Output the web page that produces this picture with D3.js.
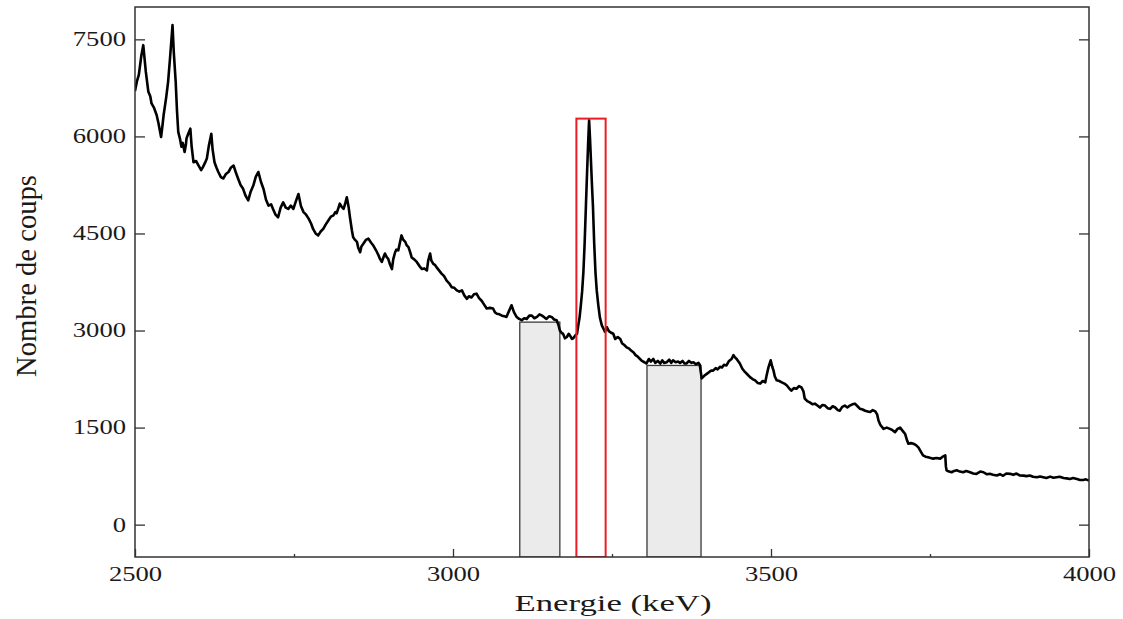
<!DOCTYPE html>
<html>
<head>
<meta charset="utf-8">
<script src="https://cdn.jsdelivr.net/npm/d3@7"></script>
<style>
  body { margin: 0; background: #fff; }
  svg { display: block; }
  text { font-family: "Liberation Serif", "Times New Roman", serif; fill: #1a1a1a; }
</style>
</head>
<body>
<svg id="chart"></svg>
<script>
// gamma spectrum, [energy keV, counts]
const spectrum = [
  [2500,6700],[2503,6850],[2506,6950],[2510,7250],[2513,7410],[2517,7000],[2521,6690],[2524,6620],
  [2526,6510],[2530,6440],[2534,6330],[2537,6200],[2541,5990],[2543,6150],[2545,6330],[2549,6600],
  [2552,6840],[2555,7200],[2559,7720],[2561,7300],[2564,6840],[2566,6400],[2568,6070],[2571,5950],
  [2573,5840],[2575,5900],[2578,5760],[2580,5870],[2581,5970],[2584,6050],[2587,6120],[2589,5850],
  [2592,5600],[2596,5620],[2600,5550],[2604,5480],[2607,5530],[2610,5590],[2613,5660],[2616,5850],
  [2620,6040],[2622,5800],[2625,5600],[2628,5520],[2631,5450],[2635,5370],[2639,5350],[2643,5420],
  [2647,5450],[2651,5520],[2655,5550],[2659,5430],[2662,5350],[2666,5250],[2670,5190],[2674,5080],
  [2678,5010],[2682,5150],[2686,5240],[2690,5380],[2694,5450],[2698,5300],[2702,5190],[2706,5020],
  [2710,4930],[2714,4950],[2717,4880],[2721,4790],[2725,4750],[2729,4900],[2733,4980],[2737,4900],
  [2741,4880],[2745,4930],[2749,4880],[2753,5000],[2757,5110],[2761,4920],[2765,4830],[2769,4790],
  [2773,4730],[2777,4650],[2780,4570],[2784,4500],[2788,4470],[2792,4530],[2796,4570],[2800,4640],
  [2804,4700],[2808,4760],[2812,4780],[2815,4830],[2817,4810],[2820,4900],[2822,4960],[2825,4910],
  [2828,4880],[2831,4980],[2833,5060],[2836,4900],[2838,4750],[2841,4550],[2843,4440],[2846,4400],
  [2849,4370],[2851,4280],[2854,4210],[2856,4300],[2859,4340],[2863,4400],[2867,4420],[2871,4360],
  [2875,4310],[2879,4240],[2883,4160],[2885,4110],[2888,4060],[2891,4140],[2893,4190],[2896,4130],
  [2898,4110],[2901,4020],[2904,3950],[2906,4100],[2909,4210],[2911,4250],[2914,4240],[2917,4380],
  [2919,4470],[2922,4400],[2925,4370],[2927,4320],[2930,4290],[2933,4200],[2935,4130],[2939,4100],
  [2943,4060],[2947,4000],[2951,3950],[2955,3960],[2959,3930],[2961,4080],[2964,4190],[2966,4080],
  [2969,4030],[2972,4010],[2974,3980],[2978,3930],[2982,3880],[2986,3840],[2990,3770],[2994,3730],
  [2998,3670],[3002,3660],[3006,3620],[3010,3600],[3014,3620],[3018,3540],[3022,3490],[3025,3530],
  [3029,3510],[3033,3560],[3037,3570],[3041,3500],[3045,3460],[3049,3400],[3053,3340],[3058,3350],
  [3063,3340],[3066,3280],[3069,3260],[3073,3250],[3077,3230],[3081,3220],[3084,3210],[3088,3300],
  [3092,3390],[3096,3280],[3100,3210],[3104,3180],[3108,3160],[3112,3190],[3116,3180],[3120,3230],
  [3124,3230],[3128,3190],[3132,3210],[3136,3250],[3140,3230],[3144,3200],[3147,3180],[3151,3220],
  [3155,3210],[3159,3170],[3163,3160],[3166,3080],[3168,3000],[3171,2960],[3173,2950],[3176,2880],
  [3179,2900],[3182,2950],[3184,2920],[3187,2870],[3189,2880],[3192,2920],[3195,2950],[3197,3080],
  [3199,3200],[3201,3390],[3203,3600],[3205,3900],[3207,4350],[3209,4930],[3211,5500],[3212.5,5900],
  [3214,6250],[3215.5,5950],[3217,5600],[3218.5,5250],[3220,4930],[3222,4350],[3224,3900],[3226,3620],
  [3228.5,3390],[3231,3200],[3234,3080],[3237,3020],[3239,2980],[3242,3050],[3245,2990],[3248,2970],
  [3252,2950],[3255,2870],[3259,2900],[3263,2870],[3266,2800],[3269,2780],[3273,2740],[3277,2720],
  [3280,2690],[3284,2660],[3287,2620],[3290,2600],[3294,2560],[3297,2530],[3301,2510],[3304,2490],
  [3308,2560],[3311,2520],[3315,2560],[3318,2500],[3322,2530],[3326,2490],[3329,2540],[3332,2500],
  [3336,2510],[3340,2550],[3343,2500],[3346,2540],[3350,2510],[3354,2520],[3357,2500],[3361,2530],
  [3364,2490],[3367,2490],[3371,2530],[3375,2500],[3378,2510],[3382,2480],[3386,2500],[3388,2470],
  [3391,2260],[3395,2300],[3399,2330],[3403,2360],[3406,2380],[3409,2380],[3413,2420],[3416,2400],
  [3420,2440],[3423,2430],[3426,2470],[3430,2460],[3434,2530],[3438,2560],[3441,2620],[3443,2590],
  [3446,2560],[3451,2490],[3455,2410],[3459,2360],[3463,2320],[3467,2280],[3471,2250],[3475,2230],
  [3479,2190],[3483,2180],[3487,2220],[3491,2200],[3493,2300],[3496,2430],[3499.5,2540],[3502,2440],
  [3504,2380],[3506,2290],[3509,2230],[3513,2220],[3517,2200],[3521,2180],[3525,2150],[3529,2100],
  [3532,2070],[3536,2110],[3540,2100],[3544,2140],[3548,2120],[3551,2060],[3553,1950],[3557,1910],
  [3561,1890],[3565,1860],[3569,1870],[3573,1840],[3577,1810],[3581,1850],[3585,1840],[3589,1800],
  [3593,1790],[3597,1830],[3601,1810],[3605,1770],[3608,1760],[3612,1820],[3616,1840],[3620,1810],
  [3624,1840],[3628,1860],[3632,1870],[3636,1830],[3640,1790],[3644,1780],[3648,1760],[3652,1750],
  [3656,1740],[3660,1770],[3664,1750],[3667,1700],[3669,1610],[3672,1540],[3677,1480],[3682,1500],
  [3687,1480],[3691,1460],[3695,1430],[3699,1480],[3703,1500],[3707,1450],[3711,1400],[3714,1300],
  [3716,1250],[3720,1260],[3724,1250],[3728,1230],[3732,1190],[3736,1120],[3739,1070],[3743,1050],
  [3747,1040],[3751,1030],[3755,1020],[3760,1030],[3766,1020],[3770,1050],[3774,1070],[3775,900],
  [3776,840],[3780,820],[3784,810],[3788,830],[3792,840],[3797,820],[3802,810],[3807,830],
  [3813,810],[3818,790],[3823,785],[3829,820],[3834,810],[3839,780],[3844,785],[3849,770],
  [3855,760],[3860,780],[3865,755],[3870,790],[3876,785],[3881,770],[3886,790],[3891,760],
  [3897,758],[3902,750],[3907,760],[3912,740],[3918,732],[3923,745],[3928,732],[3933,720],
  [3939,742],[3944,725],[3949,732],[3954,740],[3960,722],[3965,715],[3970,706],[3975,720],
  [3981,706],[3986,690],[3991,691],[3995,700],[4000,680]
];

// background windows [from, to, level] and the peak window
const bgWindows = [[3105, 3168, 3130], [3305, 3390, 2460]];
const peakWindow = [3194, 3240, 6275];

const yTicks = [0, 1500, 3000, 4500, 6000, 7500];
const xTicks = [2500, 3000, 3500, 4000];
const xMinorTicks = [2750, 3250, 3750];

const W = 1123, H = 619;
const margin = {top: 7, right: 34, bottom: 62, left: 135};

const x = d3.scaleLinear().domain([2500, 4000]).range([margin.left, W - margin.right]);
const y = d3.scaleLinear().domain([-500, 8000]).range([H - margin.bottom, margin.top]);
const fmt = d3.format("d");

const svg = d3.select("#chart").attr("width", W).attr("height", H);

svg.append("defs").append("clipPath").attr("id", "plot")
   .append("rect")
   .attr("x", x(2500)).attr("y", y(8000))
   .attr("width", x(4000) - x(2500)).attr("height", y(-500) - y(8000));

const plot = svg.append("g").attr("clip-path", "url(#plot)");

// background windows
plot.selectAll("rect.bg")
    .data(bgWindows)
    .enter()
    .append("rect")
    .attr("class", "bg")
    .attr("x", d => x(d[0]))
    .attr("y", d => y(d[2]))
    .attr("width", d => x(d[1]) - x(d[0]))
    .attr("height", d => y(-500) - y(d[2]))
    .attr("fill", "#ebebeb")
    .attr("stroke", "#3a3a3a")
    .attr("stroke-width", 1.3);

// spectrum
const line = d3.line().x(d => x(d[0])).y(d => y(d[1]));
plot.append("path")
    .datum(spectrum)
    .attr("d", line)
    .attr("fill", "none")
    .attr("stroke", "#000")
    .attr("stroke-width", 2.6)
    .attr("stroke-linejoin", "round");

// peak window
plot.append("rect")
    .attr("x", x(peakWindow[0]))
    .attr("y", y(peakWindow[2]))
    .attr("width", x(peakWindow[1]) - x(peakWindow[0]))
    .attr("height", y(-500) - y(peakWindow[2]))
    .attr("fill", "none")
    .attr("stroke", "#ec1c24")
    .attr("stroke-width", 2);

// axes
const styleAxis = g => {
  g.select(".domain").remove();
  g.attr("font-family", null).attr("font-size", null);
  g.selectAll(".tick line").attr("stroke", "#333").attr("stroke-width", 1.3);
  g.selectAll(".tick text")
   .attr("font-size", 20)
   .attr("textLength", d => fmt(d).length * 13.3)
   .attr("lengthAdjust", "spacingAndGlyphs");
};

svg.append("g")
   .attr("transform", `translate(${margin.left},0)`)
   .call(d3.axisLeft(y).tickValues(yTicks).tickFormat(fmt).tickSize(-10).tickPadding(9))
   .call(styleAxis);

svg.append("g")
   .attr("transform", `translate(${W - margin.right},0)`)
   .call(d3.axisRight(y).tickValues(yTicks).tickSize(-10).tickFormat(""))
   .call(styleAxis);

svg.append("g")
   .attr("transform", `translate(0,${H - margin.bottom})`)
   .call(d3.axisBottom(x).tickValues(xTicks).tickFormat(fmt).tickSize(-8).tickPadding(10))
   .call(styleAxis);

svg.append("g")
   .attr("transform", `translate(0,${H - margin.bottom})`)
   .call(d3.axisBottom(x).tickValues(xMinorTicks).tickSize(-3).tickFormat(""))
   .call(styleAxis);

// frame
svg.append("rect")
   .attr("x", x(2500)).attr("y", y(8000))
   .attr("width", x(4000) - x(2500)).attr("height", y(-500) - y(8000))
   .attr("fill", "none")
   .attr("stroke", "#333")
   .attr("stroke-width", 1.5);

// axis titles
svg.append("text")
   .attr("x", 613).attr("y", 611)
   .attr("text-anchor", "middle")
   .attr("font-size", 23)
   .attr("textLength", 197)
   .attr("lengthAdjust", "spacingAndGlyphs")
   .text("Energie (keV)");

svg.append("text")
   .attr("transform", "translate(36,276) rotate(-90)")
   .attr("text-anchor", "middle")
   .attr("font-size", 29)
   .attr("textLength", 202)
   .attr("lengthAdjust", "spacingAndGlyphs")
   .text("Nombre de coups");
</script>
</body>
</html>
